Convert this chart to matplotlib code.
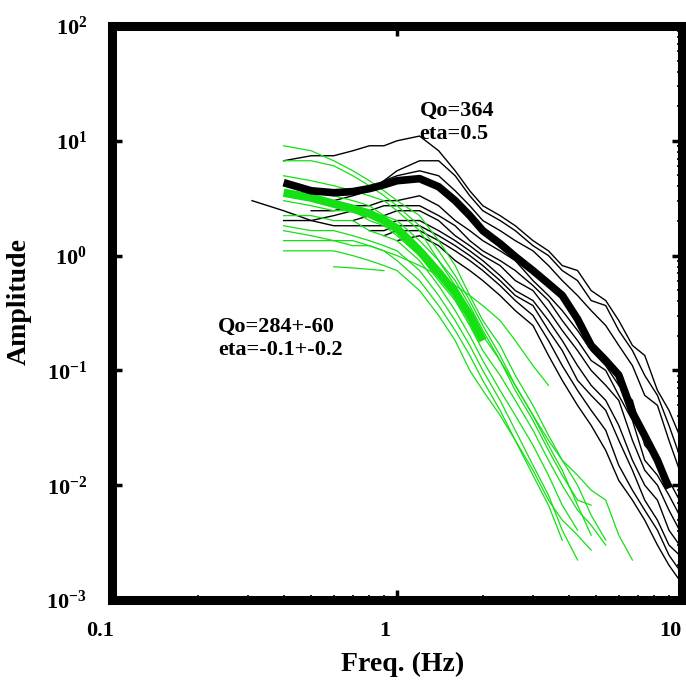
import numpy as np
import matplotlib
matplotlib.use('Agg')
import matplotlib.pyplot as plt
from matplotlib import ticker
from matplotlib.transforms import ScaledTranslation

plt.rcParams.update({
    'font.family': 'Liberation Serif',
    'font.weight': 'bold',
    'axes.linewidth': 6.5,
})

# frequency grids (Hz)
freq_black = [0.31, 0.4, 0.5, 0.6, 0.7, 0.8, 0.9, 1.0, 1.2, 1.4, 1.6, 1.8, 2.0,
              2.3, 2.6, 3.0, 3.4, 3.8, 4.3, 4.8, 5.4, 6.0, 6.7, 7.4, 8.2, 9.0, 9.8]
freq_green = [0.4, 0.5, 0.6, 0.7, 0.8, 0.9, 1.0, 1.2, 1.4, 1.6, 1.8, 2.0,
              2.3, 2.6, 3.0, 3.4, 3.8, 4.3, 4.8, 5.4, 6.0, 6.7]

# individual black spectra (None = no data)
black_1 = [None, 6.70, 7.41, 7.41, 8.19, 9.05, 9.05, 10.0, 11.0, 8.19, 5.48, 3.67, 2.72,
           2.23, 1.82, 1.35, 1.10, 0.819, 0.741, 0.496, 0.406, 0.272, 0.165, 0.135, 0.067, 0.0449, 0.0272]
black_2 = [None, None, None, None, None, 3.67, 4.49, 5.48, 6.70, 6.70, 4.96, 3.32, 2.46,
           2.02, 1.65, 1.22, 1.0, 0.741, 0.606, 0.406, 0.367, 0.223, 0.149, 0.0905, 0.0606, 0.0332, 0.0182]
black_3 = [3.01, 2.46, 2.02, 1.82, 1.82, 1.82, 1.82, 2.02, 2.02, 1.65, 1.35, 1.10, 0.905,
           0.670, 0.496, 0.406, 0.272, 0.182, 0.110, 0.0741, 0.0548, 0.0332, 0.0165, 0.0100, 0.00741, 0.00406, 0.00301]
black_4 = [None, None, None, 3.01, 3.32, 3.67, 4.49, 4.96, 5.48, 4.96, 3.67, 2.72, 2.02,
           1.65, 1.35, 1.10, 0.819, 0.606, 0.449, 0.332, 0.246, 0.165, 0.110, 0.0606, 0.0496, 0.0246, 0.0135]
black_5 = [None, None, 2.46, 2.46, 2.72, 2.72, 3.01, 3.01, 3.32, 2.72, 2.02, 1.65, 1.35,
           1.10, 0.905, 0.606, 0.449, 0.332, 0.223, 0.149, 0.110, 0.0741, 0.0548, 0.0223, 0.0165, 0.0110, 0.00741]
black_6 = [None, 2.02, 2.02, 2.23, 2.46, 2.46, 2.72, 2.72, 2.72, 2.23, 1.82, 1.35, 1.10,
           0.905, 0.741, 0.548, 0.406, 0.272, 0.182, 0.122, 0.100, 0.0606, 0.0367, 0.0165, 0.0122, 0.00819, 0.00548]
black_7 = [None, None, None, None, 2.02, 2.23, 2.23, 2.46, 2.46, 2.02, 1.49, 1.22, 1.0,
           0.819, 0.606, 0.496, 0.332, 0.223, 0.149, 0.100, 0.0741, 0.0548, 0.0246, 0.0135, 0.0100, 0.00606, 0.00406]
black_8 = [None, None, None, None, None, 1.65, 1.65, 1.82, 1.82, 1.49, 1.22, 1.0, 0.819,
           0.606, 0.449, 0.367, 0.223, 0.149, 0.0819, 0.0606, 0.0449, 0.0246, 0.0135, 0.00741, 0.00496, 0.00301, 0.00246]
black_9 = [None, None, None, None, None, None, 1.49, 1.65, 1.65, 1.35, 1.10, 0.905, 0.741,
           0.548, 0.406, 0.301, 0.182, 0.110, 0.0670, 0.0449, 0.0301, 0.0149, 0.00905, 0.00606, 0.00406, 0.00246, 0.00182]
black_10 = [None, None, None, None, None, None, None, 1.35, 1.49, 1.22, 0.905, 0.741, 0.606,
            0.449, 0.332, 0.246, 0.135, 0.0819, 0.0496, 0.0332, 0.0201, 0.0110, 0.00741, 0.00496, 0.00301, 0.00201, 0.00149]
black_mean = [None, 4.32, 3.67, 3.53, 3.61, 3.83, 4.14, 4.49, 4.68, 3.98, 3.01, 2.23, 1.65,
              1.27, 0.98, 0.74, 0.57, 0.45, 0.28, 0.165, 0.122, 0.091, 0.043, 0.027, 0.0165, 0.0094, None]

# individual green spectra
green_1 = [9.05, 8.19, 6.70, 5.48, 4.49, 3.67, 3.01, 2.23, 1.35, 0.819, 0.449, 0.272,
           0.165, 0.0905, 0.0496, 0.0272, 0.0165, 0.0122, 0.00905, 0.00741, 0.00367, 0.00223]
green_2 = [6.70, 6.70, 6.06, 4.96, 4.06, 3.32, 2.72, 1.82, 1.10, 0.670, 0.406, 0.246,
           0.135, 0.0741, 0.0406, 0.0223, 0.0135, 0.00670, 0.00367, None, None, None]
green_3 = [3.01, 2.72, 2.46, 2.46, 2.02, 1.82, 1.49, 1.0, 0.606, 0.406, 0.246, 0.149,
           0.0905, 0.0548, 0.0301, 0.0165, 0.0100, 0.00606, 0.00449, 0.00301, None, None]
green_4 = [4.06, 3.67, 3.32, 3.01, 2.72, 2.23, 2.02, 1.35, 0.905, 0.548, 0.332, 0.201,
           0.122, 0.0670, 0.0367, 0.0201, 0.0122, 0.00741, 0.00670, None, None, None]
green_5 = [2.23, 2.23, 2.02, 2.02, 1.65, 1.49, 1.35, 0.905, 0.548, 0.332, 0.201, 0.122,
           0.0670, 0.0406, 0.0223, 0.0122, 0.00670, 0.00406, None, None, None, None]
green_6 = [1.82, 1.65, 1.65, 1.49, 1.35, 1.22, 1.10, 0.741, 0.449, 0.272, 0.165, 0.100,
           0.0548, 0.0301, 0.0149, 0.00819, 0.00406, 0.00223, None, None, None, None]
green_7 = [1.35, 1.35, 1.35, 1.22, 1.22, 1.10, 0.905, 0.606, 0.367, 0.223, 0.135, 0.0819,
           0.0449, 0.0246, 0.0135, 0.00741, 0.00496, 0.00367, 0.00272, None, None, None]
green_8 = [1.10, 1.10, 1.10, 1.0, 0.905, 0.819, 0.741, 0.496, 0.301, 0.182, 0.100, 0.0670,
           0.0406, 0.0246, 0.0122, 0.00670, 0.00332, None, None, None, None, None]
green_9 = [4.96, 4.49, 4.06, 3.67, 3.32, 3.01, 2.46, 1.65, 0.905, 0.606, 0.367, 0.223,
           0.122, 0.0741, 0.0406, 0.0246, 0.0165, 0.0100, 0.00548, 0.00332, None, None]
green_10 = [1.65, 1.49, 1.35, 1.35, 1.22, 1.10, 1.0, 0.819, 0.670, 0.548, 0.449, 0.367,
            0.272, 0.182, 0.110, 0.0741, None, None, None, None, None, None]
green_11 = [None, None, 0.80, 0.78, 0.76, 0.74, None, None, None, None, None, None,
            None, None, None, None, None, None, None, None, None, None]
green_mean = [3.53, 3.19, 2.83, 2.56, 2.32, 2.02, 1.72, 1.10, 0.711, 0.476, 0.301, 0.182,
              None, None, None, None, None, None, None, None, None, None]

black_thin = [black_1, black_2, black_3, black_4, black_5, black_6, black_7,
              black_8, black_9, black_10]
green_thin = [green_1, green_2, green_3, green_4, green_5, green_6, green_7,
              green_8, green_9, green_10, green_11]

green_color = '#14e014'

fig = plt.figure(figsize=(6.86, 6.85), dpi=100)
ax = fig.add_axes([112 / 686, 1 - 600 / 685, 570 / 686, 574 / 685])

for amp in black_thin:
    ax.plot(freq_black, np.array(amp, dtype=float), color='black', lw=1.0)
for amp in green_thin:
    ax.plot(freq_green, np.array(amp, dtype=float), color=green_color, lw=0.9)
ax.plot(freq_green, np.array(green_mean, dtype=float), color=green_color, lw=6,
        solid_capstyle='butt')
ax.plot(freq_black, np.array(black_mean, dtype=float), color='black', lw=5.5,
        solid_capstyle='butt')

ax.set_xscale('log')
ax.set_yscale('log')
ax.set_xlim(0.1, 10)
ax.set_ylim(1e-3, 1e2)

ax.set_xticks([0.1, 1, 10])
ax.set_xticklabels(['0.1', '1', '10'])
ax.xaxis.set_minor_formatter(ticker.NullFormatter())
ax.yaxis.set_major_locator(ticker.LogLocator(base=10, numticks=10))
ax.yaxis.set_minor_formatter(ticker.NullFormatter())

ax.tick_params(which='major', direction='in', length=7, width=2.5,
               top=True, right=True, labelsize=16)
ax.tick_params(axis='x', which='major', pad=15)
ax.tick_params(axis='y', which='major', pad=18)
ax.tick_params(which='minor', direction='in', length=3.5, width=1.2,
               top=True, right=True)

shift = ScaledTranslation(-0.12, 0, fig.dpi_scale_trans)
for lab in ax.get_xticklabels():
    lab.set_transform(lab.get_transform() + shift)

ax.set_xlabel('Freq. (Hz)', fontsize=20, fontweight='bold')
ax.set_ylabel('Amplitude', fontsize=20, fontweight='bold')
ax.xaxis.set_label_coords(0.509, -0.09)
ax.yaxis.set_label_coords(-0.14, 0.52)

ax.text(1.2, 18.2, 'Qo=364', fontsize=16, fontweight='bold', va='center', ha='left')
ax.text(1.2, 11.5, 'eta=0.5', fontsize=16, fontweight='bold', va='center', ha='left')
ax.text(0.235, 0.237, 'Qo=284+-60', fontsize=16, fontweight='bold', va='center', ha='left')
ax.text(0.235, 0.152, 'eta=-0.1+-0.2', fontsize=16, fontweight='bold', va='center', ha='left')

fig.savefig('out.png', dpi=100)
